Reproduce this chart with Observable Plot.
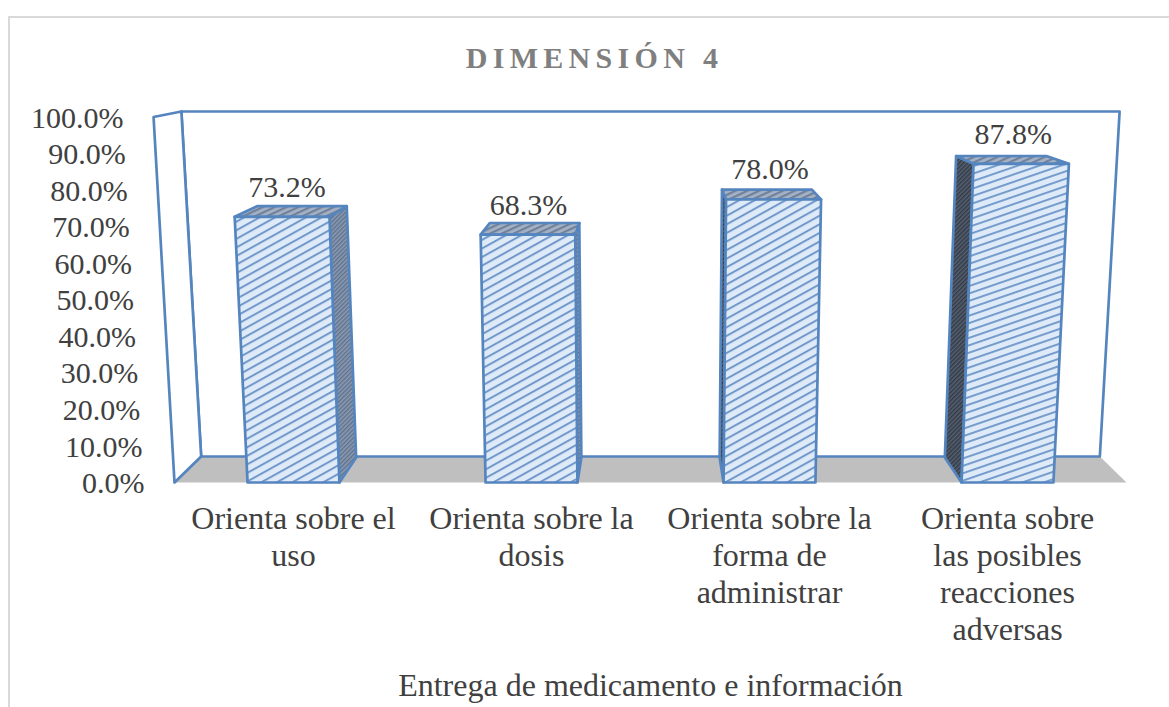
<!DOCTYPE html>
<html lang="es">
<head>
<meta charset="utf-8">
<script src="https://cdn.jsdelivr.net/npm/d3@7"></script>
<script src="https://cdn.jsdelivr.net/npm/@observablehq/plot@0.6"></script>
<style>
  html, body { margin: 0; padding: 0; background: #fff; }
  body { width: 1169px; height: 707px; overflow: hidden; position: relative; font-family: "Liberation Serif", serif; }
  #border { position: absolute; left: 8px; top: 16px; right: 0; bottom: 0; border-top: 2px solid #d9d9d9; border-left: 2px solid #d9d9d9; pointer-events: none; }
  #title { height: 85px; box-sizing: border-box; padding-top: 40px; padding-left: 20px; text-align: center; font-weight: bold; font-size: 30px; line-height: 36px; letter-spacing: 5.3px; color: #7f7f7f; }
</style>
</head>
<body>
<div id="border"></div>
<div id="title">DIMENSIÓN 4</div>
<div id="chart"></div>
<script>
const xTitle = "Entrega de medicamento e información";
const categories = [
  "Orienta sobre el\nuso",
  "Orienta sobre la\ndosis",
  "Orienta sobre la\nforma de\nadministrar",
  "Orienta sobre\nlas posibles\nreacciones\nadversas"
];
const values = [73.2, 68.3, 78.0, 87.8];
const yTicks = [0, 10, 20, 30, 40, 50, 60, 70, 80, 90, 100];

// Perspective of the 3D box, in data units (slot index, depth 0..1, percent)
const depthShrink = 0.056, riseSpread = 0.044, floorRise = 7.11, barSink = 0.993;
const halfBar = 0.193, barDepth = 0.96;
const project = (u, d, v) => ({
  x: 2 + (u - 2) * (1 - depthShrink * d) * (1 + riseSpread * v / 100),
  y: v * (1 - depthShrink * d) + floorRise * d
});
const poly = (id, corners) => corners.map(([u, d, v]) => ({id, ...project(u, d, v)}));

const floor = poly("floor", [[0,0,0],[4,0,0],[4,1,0],[0,1,0]]);
const backWall = poly("back", [[0,1,0],[4,1,0],[4,1,100],[0,1,100]]);
const leftWall = poly("left", [[0,0,0],[0,0,100],[0,1,100],[0,1,0]]);

const bars = values.map((v, i) => {
  const c = i + 0.5, l = c - halfBar, r = c + halfBar, h = v * barSink, e = c < 2 ? r : l;
  return {
    i, v,
    side: poly("s" + i, [[e,0,0],[e,barDepth,0],[e,barDepth,h],[e,0,h]]),
    top: poly("t" + i, [[l,0,h],[r,0,h],[r,barDepth,h],[l,barDepth,h]]),
    front: poly("f" + i, [[l,0,0],[r,0,0],[r,0,h],[l,0,h]])
  };
});
const stroke = "#5585bf";
const face = (pts, fill, w = 2.7) => Plot.line(pts, {x: "x", y: "y", z: "id", curve: "linear-closed", fill, stroke, strokeWidth: w, strokeLinejoin: "round"});
const barLabels = bars.map(b => ({text: b.v.toFixed(1) + "%", x: project(b.i + 0.5, 0.32, b.v).x, y: b.v * barSink}));
const tickLabels = yTicks.map(v => ({text: v.toFixed(1) + "%", x: project(0, 0, v).x, y: v}));

const plot = Plot.plot({
  width: 1169, height: 622,
  marginTop: 31.5, marginBottom: 225, marginLeft: 174, marginRight: 43,
  x: {domain: [0, 4]},
  y: {domain: [0, 100], axis: null},
  style: {background: "transparent", fontFamily: "Liberation Serif", fontSize: "30px", color: "#404040", overflow: "visible"},
  marks: [
    Plot.line(floor, {x: "x", y: "y", z: "id", curve: "linear-closed", fill: "#bfbfbf"}),
    face(backWall, "none"),
    face(leftWall, "#ffffff"),
    ...bars.map(b => face(b.side, b.i < 2 ? "url(#sideMid)" : "url(#sideDark)")),
    ...bars.map(b => face(b.top, "url(#topHatch)")),
    ...bars.map(b => face(b.front, b.i === 3 ? "url(#frontFlat)" : "url(#frontSteep)")),
    Plot.text(barLabels, {x: "x", y: "y", text: "text", textAnchor: "middle", lineAnchor: "bottom", dx: -1.5, dy: -20, fill: "#404040"}),
    Plot.text(tickLabels, {x: "x", y: "y", text: "text", textAnchor: "end", dx: -30, dy: 1, fill: "#404040"}),
    Plot.axisX({
      ticks: categories.map((_, i) => i + 0.5),
      tickFormat: d => categories[Math.floor(d)],
      tickSize: 0, tickPadding: 20, lineHeight: 1.156, textOverflow: null, fontSize: 32,
      label: xTitle, labelAnchor: "center", labelArrow: "none", labelOffset: 213
    })
  ]
});
const hatch = (id, bg, fg, angle, period, w) => `<pattern id="${id}" patternUnits="userSpaceOnUse" width="${period}" height="${period}" patternTransform="rotate(${angle})"><rect width="${period}" height="${period}" fill="${bg}"/><rect width="${period}" height="${w}" fill="${fg}"/></pattern>`;
const defs = document.createElementNS("http://www.w3.org/2000/svg", "defs");
defs.innerHTML =
  hatch("frontSteep", "#deeaf7", "#7098cb", -29, 7.5, 2) +
  hatch("frontFlat", "#deeaf7", "#7098cb", -19, 7, 1.9) +
  hatch("topHatch", "#a6b2c3", "#6f819c", -25, 5, 2.2) +
  hatch("sideMid", "#8d9cb2", "#5f7390", -45, 3, 1.5) +
  hatch("sideDark", "#56606e", "#333b49", -45, 3, 1.5);
plot.insertBefore(defs, plot.firstChild);
document.getElementById("chart").append(plot);
</script>
</body>
</html>
